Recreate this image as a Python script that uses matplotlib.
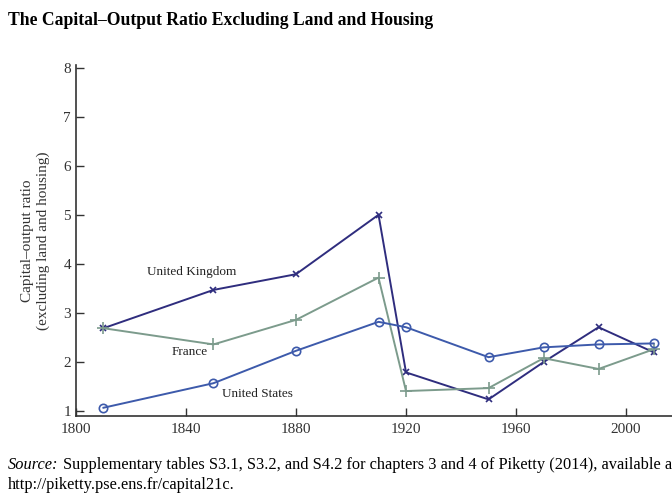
import matplotlib
matplotlib.use("Agg")
import matplotlib.pyplot as plt

plt.rcParams['font.family'] = ['Liberation Serif', 'DejaVu Serif']

# data
years = [1810, 1850, 1880, 1910, 1920, 1950, 1970, 1990, 2010]
uk = [2.69, 3.47, 3.79, 5.0, 1.79, 1.24, 2.0, 2.71, 2.2]
france = [2.69, 2.36, 2.86, 3.72, 1.41, 1.47, 2.08, 1.86, 2.26]
us = [1.07, 1.57, 2.23, 2.82, 2.71, 2.1, 2.3, 2.36, 2.38]

x_ticks = [1800, 1840, 1880, 1920, 1960, 2000]
y_ticks = [1, 2, 3, 4, 5, 6, 7, 8]

uk_col = '#2f2d7e'
fr_col = '#7c9b8c'
us_col = '#3d5aab'

fig = plt.figure(figsize=(6.72, 4.93), dpi=100)
ax = fig.add_axes([0.113, 0.156, 0.887, 0.712])

ax.plot(years, uk, color=uk_col, lw=1.4, marker='x', ms=5, mew=1.2)
ax.plot(years, france, color=fr_col, lw=1.4, marker='+', ms=8, mew=1.2)
ax.plot(years, us, color=us_col, lw=1.4, marker='o', ms=6, mfc='none', mew=1.2)

ax.text(1842, 3.84, 'United Kingdom', fontsize=9.5, ha='center', va='center', color='#222222')
ax.text(1841.5, 2.2, 'France', fontsize=9.5, ha='center', va='center', color='#222222')
ax.text(1866, 1.35, 'United States', fontsize=9.5, ha='center', va='center', color='#222222')

ax.set_xlim(1800, 2016.7)
ax.set_ylim(0.9, 8.05)
ax.set_xticks(x_ticks)
ax.set_yticks(y_ticks)
ax.tick_params(direction='in', length=6, width=1, labelsize=11, colors='#333333')
ax.tick_params(axis='x', pad=5)
for s in ['top', 'right']:
    ax.spines[s].set_visible(False)
for s in ['left', 'bottom']:
    ax.spines[s].set_color('#333333')
    ax.spines[s].set_linewidth(1.2)

ax.set_ylabel('Capital\u2013output ratio\n(excluding land and housing)', fontsize=11, color='#333333', labelpad=10)

fig.text(0.012, 0.958, 'The Capital\u2013Output Ratio Excluding Land and Housing',
         fontsize=12.7, fontweight='bold', ha='left', va='center')
fig.text(0.012, 0.057, 'Source:', fontsize=11.8, style='italic', ha='left', va='center')
fig.text(0.094, 0.057, 'Supplementary tables S3.1, S3.2, and S4.2 for chapters 3 and 4 of Piketty (2014), available at',
         fontsize=11.8, ha='left', va='center')
fig.text(0.012, 0.016, 'http://piketty.pse.ens.fr/capital21c.', fontsize=11.8, ha='left', va='center')

fig.savefig('out.png', dpi=100)
